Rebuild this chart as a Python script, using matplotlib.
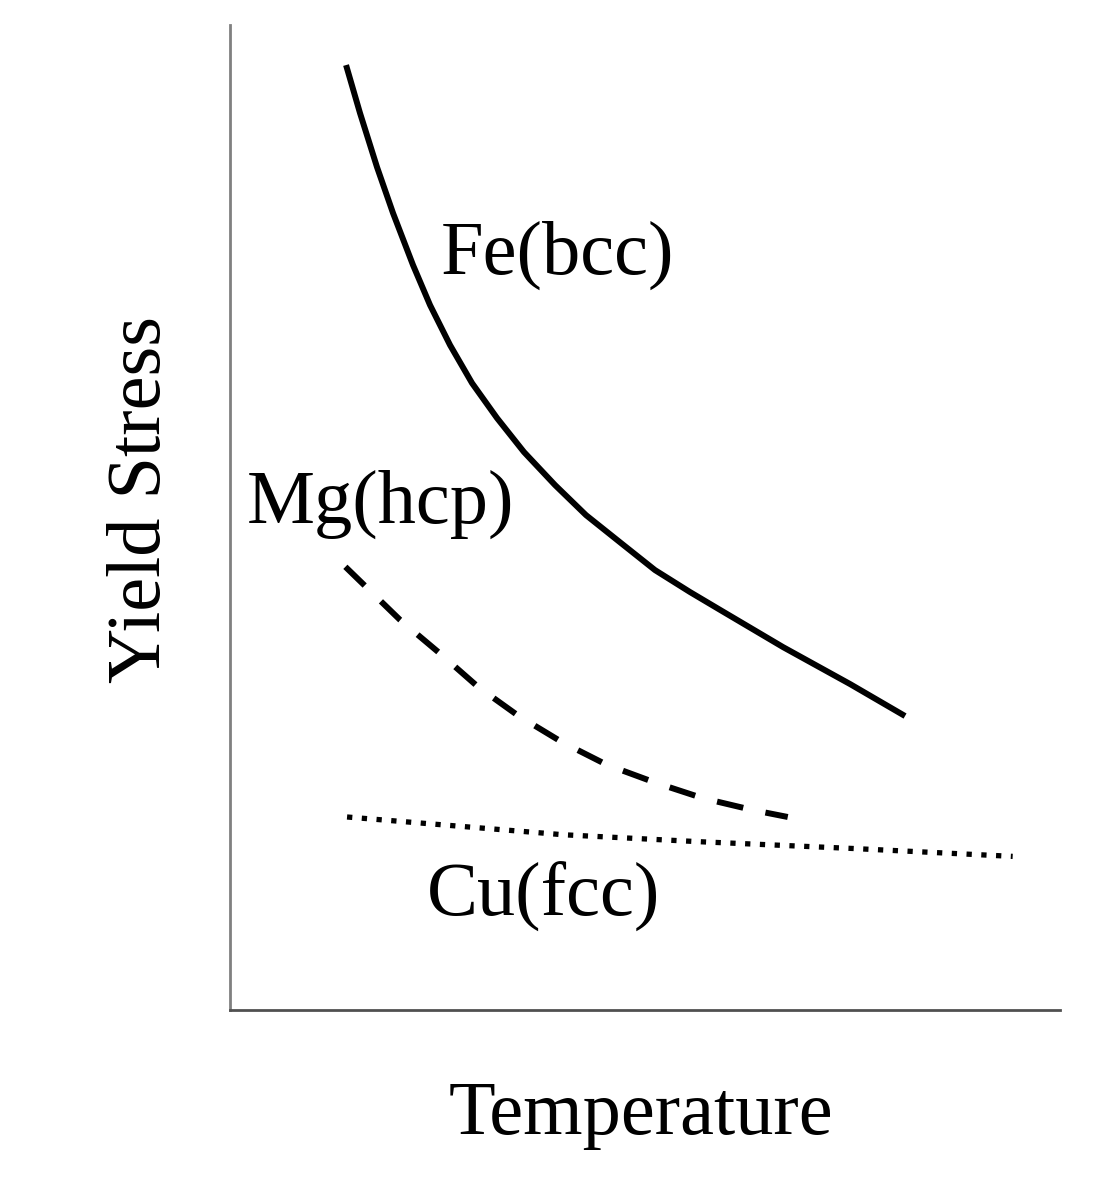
import matplotlib
matplotlib.use('Agg')
import matplotlib.pyplot as plt
import numpy as np

# schematic yield stress vs temperature (arbitrary units, 0-100)
fe_t = [13.98, 15.66, 17.71, 19.64, 22.05, 24.10, 26.51, 29.16, 32.17, 35.42,
        39.16, 42.89, 47.11, 51.20, 55.42, 59.28, 66.63, 74.70, 81.33]
fe_s = [95.94, 91.07, 85.58, 80.91, 75.63, 71.57, 67.51, 63.65, 60.10, 56.65,
        53.30, 50.25, 47.41, 44.67, 42.44, 40.51, 36.85, 33.10, 29.85]

mg_t = [13.9, 20.5, 25.3, 29.9, 34.7, 40.0, 45.4, 51.2, 57.0, 63.0, 67.2]
mg_s = [45.0, 39.6, 36.2, 32.8, 29.9, 27.2, 24.9, 23.1, 21.5, 20.3, 19.6]

cu_t = [14.1, 40.1, 56.3, 75.1, 94.3]
cu_s = [19.6, 17.8, 17.1, 16.4, 15.6]

plt.rcParams['font.family'] = ['Liberation Serif', 'DejaVu Serif']

fig = plt.figure(figsize=(10.99, 12), dpi=100)
ax = fig.add_axes([0.2093, 0.1583, 0.7552, 0.8208])

ax.plot(fe_t, fe_s, color='black', lw=4.3, solid_capstyle='butt',
        solid_joinstyle='round')
ax.plot(mg_t, mg_s, color='black', lw=4.3, dashes=(4.5, 3.8))
ax.plot(cu_t, cu_s, color='black', lw=3.8, dashes=(1.0, 1.8), dash_capstyle='butt')

ax.text(39.4, 76.6, 'Fe(bcc)', fontsize=55, ha='center', va='center')
ax.text(18.1, 51.3, 'Mg(hcp)', fontsize=55, ha='center', va='center')
ax.text(37.8, 11.5, 'Cu(fcc)', fontsize=55, ha='center', va='center')

ax.set_xlim(0, 100)
ax.set_ylim(0, 100)
ax.set_xticks([])
ax.set_yticks([])
ax.spines['top'].set_visible(False)
ax.spines['right'].set_visible(False)
ax.spines['left'].set_color('#808080')
ax.spines['bottom'].set_color('#505050')
ax.spines['left'].set_linewidth(2)
ax.spines['bottom'].set_linewidth(2)

ax.set_xlabel('Temperature', fontsize=55)
ax.xaxis.set_label_coords(0.495, -0.1066)
ax.xaxis.label.set_va('center')
ax.set_ylabel('Yield Stress', fontsize=55)
ax.yaxis.set_label_coords(-0.107, 0.518)
ax.yaxis.label.set_va('center')

fig.savefig('out.png', dpi=100)
